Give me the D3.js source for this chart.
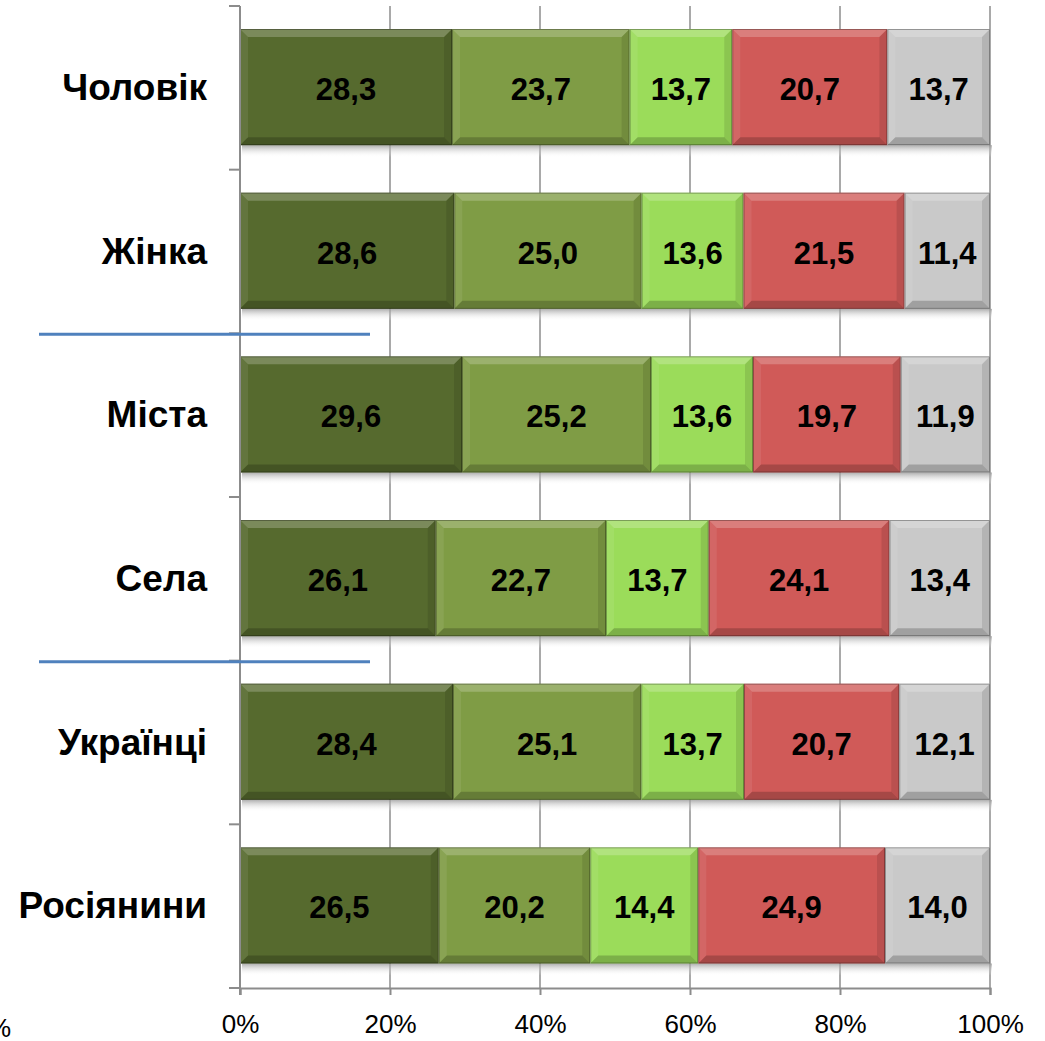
<!DOCTYPE html>
<html>
<head>
<meta charset="utf-8">
<script src="https://cdn.jsdelivr.net/npm/d3@7"></script>
<style>
  body { margin: 0; background: #fff; }
</style>
</head>
<body>
<div id="chart"></div>
<script>
// data
var categories = ["Чоловік", "Жінка", "Міста", "Села", "Українці", "Росіянини"];
var seriesA = [28.3, 28.6, 29.6, 26.1, 28.4, 26.5];
var seriesB = [23.7, 25.0, 25.2, 22.7, 25.1, 20.2];
var seriesC = [13.7, 13.6, 13.6, 13.7, 13.7, 14.4];
var seriesD = [20.7, 21.5, 19.7, 24.1, 20.7, 24.9];
var seriesE = [13.7, 11.4, 11.9, 13.4, 12.1, 14.0];
var tickValues = [0, 0.2, 0.4, 0.6, 0.8, 1];

var series = [seriesA, seriesB, seriesC, seriesD, seriesE];
var colors = ["#566a2e", "#7f9c45", "#9bdc5a", "#d05a58", "#c9c9c9"];

var width = 1045, height = 1041;
var svg = d3.select("#chart").append("svg")
    .attr("width", width)
    .attr("height", height);

var x = d3.scaleLinear().domain([0, 1]).range([240, 990]);
var y = d3.scaleBand().domain(categories).range([6, 988]).padding(0);
var barH = y.bandwidth() * 0.71;
var barOff = 23;

// stacked rows, normalised to 100%
var rows = categories.map(function(c, i) {
  var vals = series.map(function(s) { return s[i]; });
  var total = d3.sum(vals);
  var acc = 0;
  return vals.map(function(v, k) {
    var seg = {cat: c, k: k, v: v, x0: acc / total, x1: (acc + v) / total};
    acc += v;
    return seg;
  });
});

var defs = svg.append("defs");
var sh = defs.append("linearGradient").attr("id", "shadow")
    .attr("x1", 0).attr("y1", 0).attr("x2", 0).attr("y2", 1);
sh.append("stop").attr("offset", "0%").attr("stop-color", "#9a9a9a").attr("stop-opacity", 0.8);
sh.append("stop").attr("offset", "100%").attr("stop-color", "#fff").attr("stop-opacity", 0);

// gridlines
svg.append("g")
  .selectAll("line")
  .data(tickValues.slice(1))
  .enter().append("line")
  .attr("x1", function(d) { return x(d); })
  .attr("x2", function(d) { return x(d); })
  .attr("y1", 6)
  .attr("y2", 988)
  .attr("stroke", "#8c8c8c")
  .attr("stroke-width", 1.5);

// shadows under bars
svg.append("g")
  .selectAll("rect")
  .data(categories)
  .enter().append("rect")
  .attr("x", x(0) + 2)
  .attr("y", function(d) { return y(d) + barOff + barH; })
  .attr("width", x(1) - x(0))
  .attr("height", 12)
  .attr("fill", "url(#shadow)");

var bev = 8;
var segs = svg.append("g")
  .selectAll("g")
  .data(d3.merge(rows))
  .enter().append("g");

segs.append("rect")
  .attr("x", function(d) { return x(d.x0); })
  .attr("y", function(d) { return y(d.cat) + barOff; })
  .attr("width", function(d) { return x(d.x1) - x(d.x0); })
  .attr("height", barH)
  .attr("fill", function(d) { return colors[d.k]; });

// bevel faces
function face(d, side) {
  var l = x(d.x0), r = x(d.x1), t = y(d.cat) + barOff, b = t + barH;
  var pts;
  if (side == "top") pts = [[l, t], [r, t], [r - bev, t + bev], [l + bev, t + bev]];
  if (side == "bottom") pts = [[l, b], [r, b], [r - bev, b - bev], [l + bev, b - bev]];
  if (side == "left") pts = [[l, t], [l + bev, t + bev], [l + bev, b - bev], [l, b]];
  if (side == "right") pts = [[r, t], [r - bev, t + bev], [r - bev, b - bev], [r, b]];
  return "M" + pts.join("L") + "Z";
}
var faces = [["top", "#fff", 0.22], ["left", "#fff", 0.08], ["right", "#000", 0.1], ["bottom", "#000", 0.2]];
faces.forEach(function(f) {
  segs.append("path")
    .attr("d", function(d) { return face(d, f[0]); })
    .attr("fill", f[1])
    .attr("fill-opacity", f[2]);
});

segs.append("rect")
  .attr("x", function(d) { return x(d.x0) + 0.5; })
  .attr("y", function(d) { return y(d.cat) + barOff + 0.5; })
  .attr("width", function(d) { return x(d.x1) - x(d.x0) - 1; })
  .attr("height", barH - 1)
  .attr("fill", "none")
  .attr("stroke", "#000")
  .attr("stroke-opacity", 0.3);

segs.append("text")
  .text(function(d) { return d3.format(".1f")(d.v).replace(".", ","); })
  .attr("x", function(d) { return (x(d.x0) + x(d.x1)) / 2; })
  .attr("y", function(d) { return y(d.cat) + barOff + barH / 2 + 13; })
  .attr("text-anchor", "middle")
  .attr("font-family", "Liberation Sans, Arial, sans-serif")
  .attr("font-weight", "bold")
  .attr("font-size", 31)
  .attr("fill", "#000");

// left axis
var yAxis = svg.append("g");
yAxis.append("line")
  .attr("x1", 240).attr("x2", 240)
  .attr("y1", 6).attr("y2", 995)
  .attr("stroke", "#8c8c8c").attr("stroke-width", 2);
yAxis.selectAll(".tk")
  .data(categories.concat(["end"]))
  .enter().append("line")
  .attr("class", "tk")
  .attr("x1", 229).attr("x2", 240)
  .attr("y1", function(d, i) { return i < categories.length ? y(d) : 988; })
  .attr("y2", function(d, i) { return i < categories.length ? y(d) : 988; })
  .attr("stroke", "#8c8c8c").attr("stroke-width", 2);
yAxis.selectAll("text")
  .data(categories)
  .enter().append("text")
  .text(function(d) { return d; })
  .attr("x", 207)
  .attr("y", function(d) { return y(d) + barOff + barH / 2 + 13; })
  .attr("text-anchor", "end")
  .attr("font-family", "Liberation Sans, Arial, sans-serif")
  .attr("font-weight", "bold")
  .attr("font-size", 37)
  .attr("fill", "#000");

// bottom axis
var xAxis = svg.append("g").attr("transform", "translate(0,988)")
  .call(d3.axisBottom(x).tickValues(tickValues).tickFormat(d3.format(".0%")).tickSize(7).tickPadding(20));
xAxis.select(".domain").attr("stroke", "#8c8c8c").attr("stroke-width", 2);
xAxis.selectAll(".tick line").attr("stroke", "#8c8c8c").attr("stroke-width", 2);
xAxis.selectAll(".tick text")
  .attr("font-family", "Liberation Sans, Arial, sans-serif")
  .attr("font-size", 26)
  .attr("fill", "#000");

// stray label cut at left edge, as in the original
svg.append("text")
  .text("%")
  .attr("x", 11)
  .attr("y", 1037)
  .attr("text-anchor", "end")
  .attr("font-family", "Liberation Sans, Arial, sans-serif")
  .attr("font-size", 26)
  .attr("fill", "#000");

// blue separators between groups
var seps = [categories[2], categories[4]];
svg.append("g")
  .selectAll("line")
  .data(seps)
  .enter().append("line")
  .attr("x1", 39).attr("x2", 370)
  .attr("y1", function(d) { return y(d) + 1; })
  .attr("y2", function(d) { return y(d) + 1; })
  .attr("stroke", "#4f81bd")
  .attr("stroke-width", 3);
</script>
</body>
</html>
